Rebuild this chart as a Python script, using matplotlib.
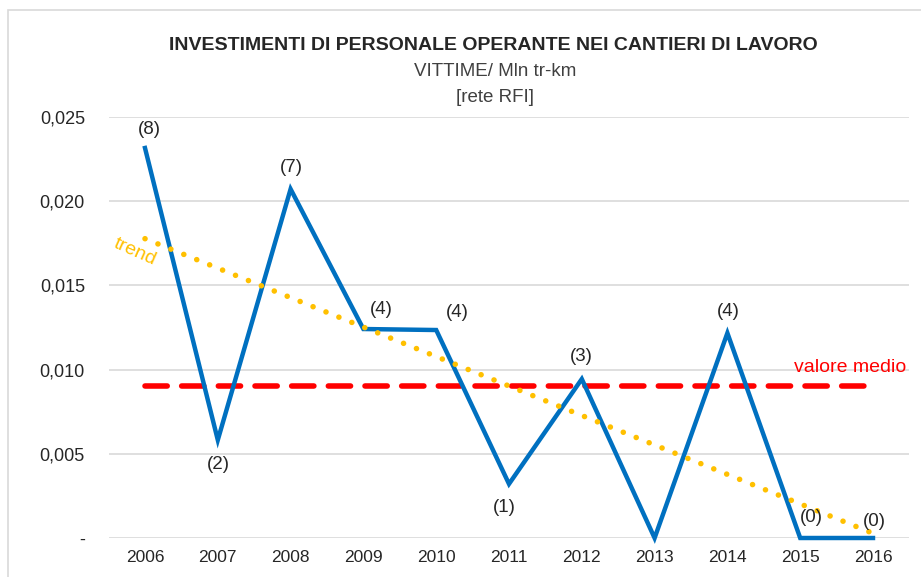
import numpy as np
import matplotlib
matplotlib.use("Agg")
import matplotlib.pyplot as plt
from matplotlib.patches import Rectangle

years = ["2006", "2007", "2008", "2009", "2010", "2011", "2012", "2013", "2014", "2015", "2016"]
vittime_rate = [0.02316, 0.00582, 0.02072, 0.01241, 0.01235, 0.00321, 0.00944, 0.0, 0.01217, 0.0, 0.0]
counts = ["(8)", "(2)", "(7)", "(4)", "(4)", "(1)", "(3)", "", "(4)", "(0)", "(0)"]
# label offsets in pixels (dx, dy)
label_offsets = [(4, 18), (1, -25), (1, 22), (18, 20), (21, 18), (-5, -24), (0, 23), (0, 0), (1, 22), (11, 20), (1, 16)]
y_ticks = [0, 0.005, 0.010, 0.015, 0.020, 0.025]
y_ticklabels = ["-", "0,005", "0,010", "0,015", "0,020", "0,025"]

title = "INVESTIMENTI DI PERSONALE OPERANTE NEI CANTIERI DI LAVORO"
sub1 = "VITTIME/ Mln tr-km"
sub2 = "[rete RFI]"

FONT = ["Liberation Sans", "DejaVu Sans"]
plt.rcParams["font.family"] = FONT

W, H = 921, 577
fig = plt.figure(figsize=(W / 100, H / 100), dpi=100)
ax = fig.add_axes([108.6 / W, (H - 538) / H, 800.8 / W, 421 / H])

x = np.arange(len(years))
y = np.array(vittime_rate)
mean = y.mean()
coef = np.polyfit(x, y, 1)
trend = np.polyval(coef, x)

ax.plot(x, [mean] * len(x), color="#FF0000", lw=4, linestyle=(0, (4, 2.6)),
        dash_capstyle="round", zorder=3)
ax.plot(x, y, color="#0070C0", lw=3.2, solid_joinstyle="miter", zorder=4, clip_on=False)
ax.plot(x, trend, color="#FFC000", lw=4, linestyle=(0, (0.01, 2.5)),
        dash_capstyle="round", zorder=5, clip_on=False)

for xi, yi, lab, (dx, dy) in zip(x, y, counts, label_offsets):
    if lab:
        ax.annotate(lab, (xi, yi), xytext=(dx, dy), textcoords="offset pixels",
                    ha="center", va="center", fontsize=13.5, color="#262626", zorder=6)

ax.set_xlim(-0.5, len(years) - 0.5)
ax.set_ylim(0, 0.025)
ax.set_xticks(x)
ax.set_xticklabels(years, fontsize=12.5, color="#262626")
ax.set_yticks(y_ticks)
ax.set_yticklabels(y_ticklabels, fontsize=13, color="#262626")
ax.tick_params(axis="both", length=0)
ax.tick_params(axis="x", pad=9)
ax.tick_params(axis="y", pad=17)
for s in ax.spines.values():
    s.set_visible(False)
ax.grid(axis="y", color="#D9D9D9", lw=1.2, zorder=0)
ax.set_axisbelow(True)

ax.text(10.45, mean + 0.0006, "valore medio", ha="right", va="bottom",
        fontsize=14, color="#FF0000")
ax.text(-0.14, 0.0170, "trend", ha="center", va="center", rotation=-24,
        fontsize=14, color="#FFC000")

fig.text(493 / W, 1 - 45 / H, title, ha="center", va="center", fontsize=14,
         fontweight="bold", color="#262626")
fig.text(495 / W, 1 - 71 / H, sub1, ha="center", va="center", fontsize=13.5,
         color="#404040")
fig.text(495 / W, 1 - 98 / H, sub2, ha="center", va="center", fontsize=13.5,
         color="#404040")

fig.patches.append(Rectangle((8 / W, -0.1), 1.2, 1 - 10 / H + 0.1, transform=fig.transFigure,
                             fill=False, edgecolor="#D9D9D9", lw=1.2, zorder=0))

fig.savefig("out.png", dpi=100, facecolor="white")
